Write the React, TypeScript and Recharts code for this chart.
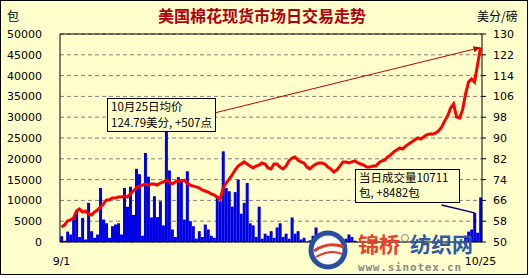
import {
  Bar,
  CartesianGrid,
  ComposedChart,
  Line,
  ReferenceLine,
  XAxis,
  YAxis,
} from "recharts";

// daily traded volume (bales)
const volume = [
  1400, 300, 2500, 1800, 5800, 7500, 1200, 5800, 600, 9400,
  2600, 1000, 1800, 13000, 5400, 4500, 1000, 3800, 4200, 4500,
  1800, 13000, 8500, 13300, 6500, 17600, 16300, 1500, 21400, 15700,
  5900, 11000, 6000, 9800, 4000, 27500, 17200, 3000, 1200, 15600,
  15000, 5400, 17000, 5000, 3800, 800, 2600, 1200, 4200, 3000,
  1500, 1000, 11000, 9800, 21800, 13000, 12200, 8500, 12000, 15000,
  6800, 9400, 14200, 4500, 4000, 1200, 8500, 800, 2000, 1500,
  2600, 1000, 3500, 4500, 1200, 2000, 800, 5900, 2000, 2600,
  600, 1000, 0, 400, 1500, 3500, 800, 1000, 1200, 1000,
  400, 300, 200, 0, 300, 800, 1800, 1200, 300, 0,
  0, 200, 0, 0, 0, 300, 0, 0, 0, 0,
  0, 0, 0, 0, 0, 0, 0, 0, 0, 0,
  0, 0, 0, 0, 0, 0, 0, 0, 0, 0,
  0, 0, 0, 0, 0, 1500, 2500, 3000, 7000, 2229,
  10711,
];

// average spot price (cents/lb)
const price = [
  55.8, 56.5, 58.1, 58.5, 59.2, 61.9, 62.7, 61.5, 61.9, 60.8,
  60.4, 61.5, 62.3, 63.5, 64.6, 66.2, 66.2, 66.9, 66.9, 67.3,
  67.3, 67.7, 67.3, 68.5, 69.6, 70.8, 71.5, 71.9, 72.3, 71.9,
  72.3, 72.3, 71.9, 72.7, 73.1, 73.8, 73.1, 72.3, 73.1, 73.5,
  73.5, 73.8, 72.7, 71.9, 71.5, 71.2, 70.8, 70.0, 69.6, 69.2,
  68.5, 68.1, 67.3, 66.5, 70.8, 72.7, 74.2, 75.8, 77.7, 79.2,
  80.0, 80.8, 80.0, 79.2, 78.5, 79.2, 79.6, 80.4, 80.0, 78.5,
  78.1, 80.0, 80.0, 78.8, 78.1, 79.2, 81.2, 82.3, 82.7, 81.5,
  80.8, 80.4, 78.8, 78.1, 79.2, 80.0, 80.4, 80.4, 80.0, 78.8,
  78.1, 76.9, 77.7, 79.2, 80.8, 80.8, 80.4, 80.8, 81.2, 80.4,
  80.0, 79.6, 78.8, 78.8, 79.2, 79.2, 80.4, 81.2, 81.5, 82.7,
  83.5, 84.6, 85.4, 86.2, 85.8, 86.9, 87.7, 88.5, 89.2, 90.0,
  89.6, 90.4, 91.2, 91.5, 91.5, 91.9, 92.7, 94.2, 96.5, 98.5,
  101.5, 103.1, 98.1, 97.7, 100.8, 106.9, 111.5, 112.7, 111.5, 118.1,
  124.79,
];

const xTickLabels = ["9/1", "10/25"];
const volTicks = [0, 5000, 10000, 15000, 20000, 25000, 30000, 35000, 40000, 45000, 50000];
const priceTicks = [50, 58, 66, 74, 82, 90, 98, 106, 114, 122, 130];

const data = price.map((p, i) => ({ i, price: p, volume: volume[i] }));
const lastIdx = data.length - 1;

const BG = "#FFFFCC";
const tickFont = { fontSize: 11, fill: "#000", fontFamily: "DejaVu Sans" };
const cjk = "'Noto Sans CJK SC', sans-serif";

function ArrowLine(props: any) {
  const { x1, y1, x2, y2 } = props;
  const a = Math.atan2(y2 - y1, x2 - x1);
  const L = 7;
  const W = 3;
  const bx = x2 - L * Math.cos(a);
  const by = y2 - L * Math.sin(a);
  const pts = [
    `${x2},${y2}`,
    `${bx + W * Math.sin(a)},${by - W * Math.cos(a)}`,
    `${bx - W * Math.sin(a)},${by + W * Math.cos(a)}`,
  ].join(" ");
  return (
    <g>
      <line x1={x1} y1={y1} x2={bx} y2={by} stroke="#c00000" strokeWidth={1} />
      <polygon points={pts} fill="#c00000" />
    </g>
  );
}

export default function App() {
  return (
    <div style={{ position: "absolute", left: 0, top: 0, width: 529, height: 278, background: "#fff" }}>
      <div
        style={{
          position: "absolute",
          left: 0,
          top: 0,
          width: 528,
          height: 275,
          boxSizing: "border-box",
          border: "1px solid #000",
          background: BG,
        }}
      />
      <div style={{ position: "absolute", left: 0, top: 0 }}>
        <ComposedChart
          width={529}
          height={278}
          data={data}
          margin={{ top: 34, right: 0, bottom: 0, left: 0 }}
          barCategoryGap="5%"
        >
          <CartesianGrid vertical={false} yAxisId="vol" stroke="#808080" strokeDasharray="4 3" />
          <XAxis
            dataKey="i"
            ticks={[0, lastIdx]}
            interval={0}
            tickFormatter={(v) => (v === 0 ? xTickLabels[0] : xTickLabels[1])}
            axisLine={{ stroke: "#000" }}
            tickLine={false}
            tickSize={0}
            tickMargin={15}
            tick={tickFont}
            height={36}
          />
          <YAxis
            yAxisId="vol"
            domain={[0, 50000]}
            ticks={volTicks}
            interval={0}
            width={60}
            axisLine={{ stroke: "#000" }}
            tickLine={false}
            tickSize={0}
            tickMargin={18}
            tick={tickFont}
          />
          <YAxis
            yAxisId="price"
            orientation="right"
            domain={[50, 130]}
            ticks={priceTicks}
            interval={0}
            width={47}
            axisLine={{ stroke: "#000" }}
            tickLine={{ stroke: "#000" }}
            tickSize={4}
            tickMargin={7}
            tick={tickFont}
          />
          <ReferenceLine yAxisId="vol" y={50000} stroke="#000" />
          <Bar yAxisId="vol" dataKey="volume" fill="#0000e6" isAnimationActive={false} />
          <Line
            yAxisId="price"
            dataKey="price"
            type="linear"
            stroke="#ff0000"
            strokeWidth={3}
            dot={false}
            activeDot={false}
            isAnimationActive={false}
          />
          <ReferenceLine
            yAxisId="price"
            segment={[
              { x: 51, y: 99.6 },
              { x: lastIdx, y: price[lastIdx] },
            ]}
            shape={ArrowLine}
          />
          <ReferenceLine
            yAxisId="vol"
            segment={[
              { x: 127, y: 8900 },
              { x: 138, y: volume[138] },
            ]}
            stroke="#000080"
            strokeWidth={1.5}
          />
        </ComposedChart>
      </div>
      <svg
        width={529}
        height={278}
        style={{ position: "absolute", left: 0, top: 0, pointerEvents: "none" }}
      >
        <text x={262} y={22} textAnchor="middle" fontFamily={cjk} fontWeight="bold" fontSize={16} fill="#b00010">
          美国棉花现货市场日交易走势
        </text>
        <text x={7} y={21} fontFamily={cjk} fontSize={12} fill="#000">
          包
        </text>
        <text x={477} y={21} fontFamily={cjk} fontSize={12} fill="#000">
          美分/磅
        </text>

        <rect x={107.5} y={98.5} width={108} height={33} fill={BG} stroke="#000" />
        <text x={111} y={111} fontFamily={cjk} fontSize={11.5} fill="#000">
          10月25日均价
        </text>
        <text x={111} y={127} fontFamily={cjk} fontSize={11.5} fill="#000">
          124.79美分, +507点
        </text>

        <rect x={355.5} y={169.5} width={104} height={33} fill={BG} stroke="#000" />
        <text x={359} y={182} fontFamily={cjk} fontSize={11.5} fill="#000">
          当日成交量10711
        </text>
        <text x={359} y={197} fontFamily={cjk} fontSize={11.5} fill="#000">
          包, +8482包
        </text>

        {/* watermark */}
        <circle cx={328} cy={250} r={17} fill="#fff" stroke="#2a4f9e" strokeWidth={5} />
        <path d="M314 251 Q328 241 344 247" stroke="#e33a22" strokeWidth={3} fill="none" />
        <path d="M316 257 Q330 249 342 254" stroke="#e33a22" strokeWidth={2} fill="none" />
        <text x={358} y={252} fontFamily={cjk} fontWeight="bold" fontSize={21} fill="#e8402a">
          锦桥
        </text>
        <circle cx={405} cy={238} r={3.5} fill="none" stroke="#888" strokeWidth={1} />
        <text x={410} y={252} fontFamily={cjk} fontWeight="bold" fontSize={21} fill="#2f58a8">
          纺织网
        </text>
        <text
          x={358}
          y={271}
          fontFamily="'DejaVu Sans Mono', monospace"
          fontWeight="bold"
          fontSize={11}
          letterSpacing={0.8}
          fill="#8a8a8a"
        >
          www.sinotex.cn
        </text>
      </svg>
    </div>
  );
}
